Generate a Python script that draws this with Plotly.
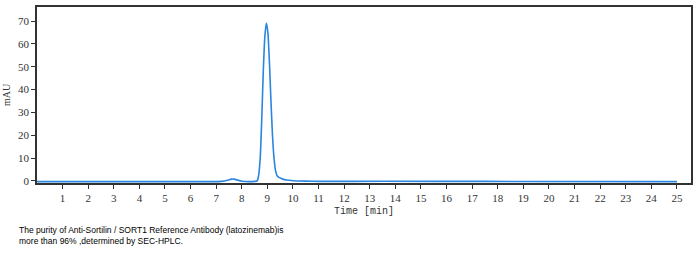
import plotly.graph_objects as go

time_min = [0, 6.8, 7.2, 7.45, 7.6, 7.7, 7.85, 8.0, 8.5, 8.6, 8.66, 8.72, 8.78, 8.84, 8.9, 8.96,
            9.02, 9.08, 9.14, 9.2, 9.26, 9.32, 9.38, 9.45, 9.52, 9.6, 9.75, 10.0, 10.5, 11.0, 13.5, 17.5, 25.0]
mau = [-0.3, -0.3, -0.2, 0.3, 0.8, 0.8, 0.3, -0.1, -0.2, 0.0, 2.5, 10, 27, 48, 63, 69.2,
       65, 52, 35, 20, 10, 4.5, 2.3, 1.6, 1.2, 0.8, 0.4, 0.1, -0.1, -0.2, -0.15, -0.2, -0.3]

x_ticks = list(range(1, 26))
y_ticks = [0, 10, 20, 30, 40, 50, 60, 70]
caption = ("The purity of Anti-Sortilin / SORT1 Reference Antibody (latozinemab)is<br>"
           "more than 96% ,determined by SEC-HPLC.")

fig = go.Figure()
fig.add_trace(go.Scatter(x=time_min, y=mau, mode="lines",
                         line=dict(color="#2a86e0", width=1.6, shape="spline", smoothing=0.6),
                         hoverinfo="skip"))

axis_font = dict(family="Liberation Serif", size=11, color="#333333")
fig.update_layout(
    width=698, height=256,
    margin=dict(l=35, r=6, t=5, b=73),
    paper_bgcolor="white", plot_bgcolor="white",
    showlegend=False,
    xaxis=dict(range=[0, 25.55], tickvals=x_ticks, ticks="outside", ticklen=4, tickcolor="#333",
               showline=True, linecolor="#333", linewidth=1.5, mirror=True, showgrid=False,
               zeroline=False, tickfont=axis_font,
               title=dict(text="Time [min]", font=dict(family="Liberation Mono", size=10, color="#333"), standoff=4)),
    yaxis=dict(range=[-0.9, 76.2], tickvals=y_ticks, ticks="outside", ticklen=4, tickcolor="#333",
               showline=True, linecolor="#333", linewidth=1.5, mirror=True, showgrid=False,
               zeroline=False, tickfont=axis_font,
               title=dict(text="mAU", font=dict(family="Liberation Serif", size=10, color="#333"), standoff=6)),
    annotations=[dict(text=caption, xref="paper", yref="paper", x=-0.0305, y=-0.225,
                      xanchor="left", yanchor="top", align="left", showarrow=False,
                      font=dict(family="Liberation Sans", size=8.5, color="black"))],
)
fig.write_html("out.html")
